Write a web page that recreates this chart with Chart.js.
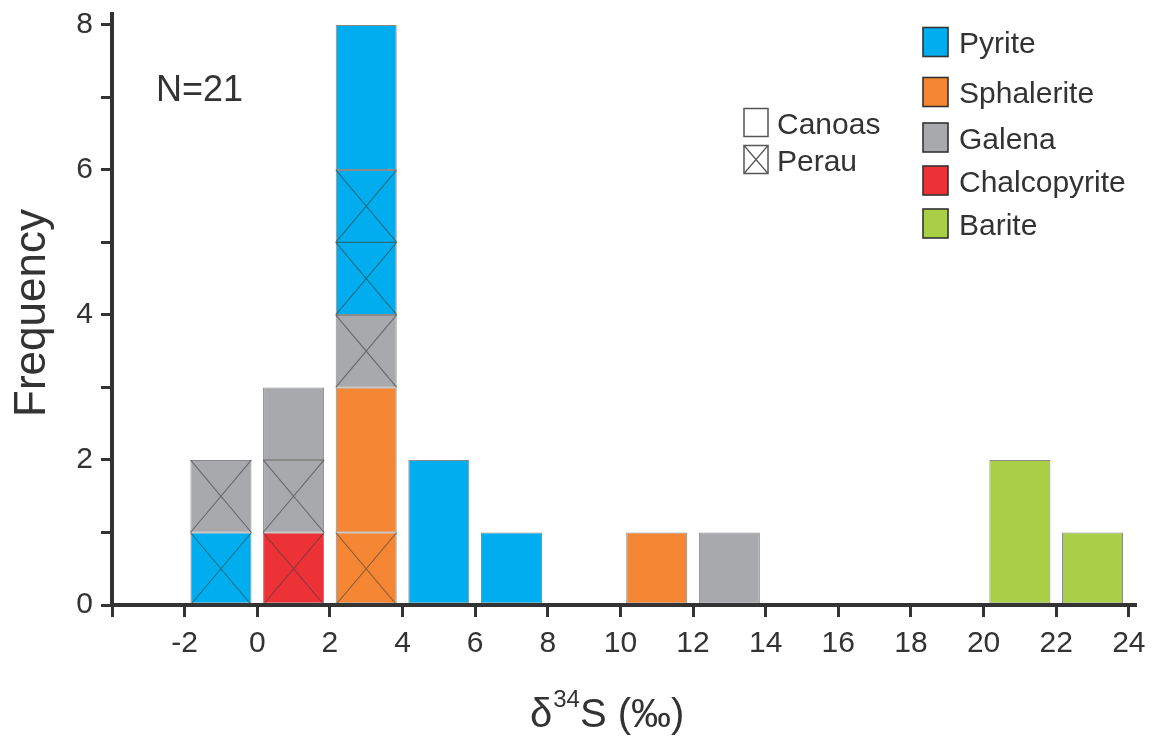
<!DOCTYPE html>
<html>
<head>
<meta charset="utf-8">
<script src="https://cdn.jsdelivr.net/npm/chart.js@4.4.1/dist/chart.umd.min.js"></script>
<style>
  html, body { margin: 0; padding: 0; background: #ffffff; }
  #wrap { width: 1153px; height: 736px; position: relative; }
</style>
</head>
<body>
<div id="wrap"><canvas id="c" width="1153" height="736"></canvas></div>
<script>
// ---- Data ----
// Each segment is one stacked block, listed bottom-to-top within its bin (bin centre in ‰).
const segBin     = [-1, -1, 1, 1, 1, 3, 3, 3, 3, 3, 5, 7, 11, 13, 21, 23];
const segMineral = ['Pyrite', 'Galena',
                    'Chalcopyrite', 'Galena', 'Galena',
                    'Sphalerite', 'Sphalerite', 'Galena', 'Pyrite', 'Pyrite',
                    'Pyrite', 'Pyrite', 'Sphalerite', 'Galena', 'Barite', 'Barite'];
const segSite    = ['Perau', 'Perau',
                    'Perau', 'Perau', 'Canoas',
                    'Perau', 'Canoas', 'Perau', 'Perau', 'Canoas',
                    'Canoas', 'Canoas', 'Canoas', 'Canoas', 'Canoas', 'Canoas'];
const segCount   = [1, 1, 1, 1, 1, 1, 2, 1, 2, 2, 2, 1, 1, 1, 2, 1];

const minerals = ['Pyrite', 'Sphalerite', 'Galena', 'Chalcopyrite', 'Barite'];
const mineralColors = ['#00AEEF', '#F48634', '#A7A9AC', '#EC3237', '#A9CF46'];
const sites = ['Canoas', 'Perau'];
const sampleLabel = 'N=21';
const xTitleMain = 'δ', xTitleSup = '34', xTitleRest = 'S (‰)';
const yTitle = 'Frequency';

// ---- Build floating-bar datasets ----
const binTop = {};
const datasets = [];
const dsIndex = {};
for (let i = 0; i < segBin.length; i++) {
  const b = segBin[i];
  const start = binTop[b] || 0;
  const end = start + segCount[i];
  binTop[b] = end;
  const key = segMineral[i] + '|' + segSite[i];
  if (!(key in dsIndex)) {
    const mi = minerals.indexOf(segMineral[i]);
    dsIndex[key] = datasets.length;
    datasets.push({
      label: segMineral[i] + ' (' + segSite[i] + ')',
      site: segSite[i],
      data: [],
      backgroundColor: mineralColors[mi],
      borderColor: 'rgba(60,60,60,0.6)',
      borderWidth: 1,
      borderSkipped: false,
      grouped: false,
      categoryPercentage: 1.0,
      barPercentage: 0.84
    });
  }
  datasets[dsIndex[key]].data.push({ x: b, y: [start, end] });
}

const TXT = '#333333';
const FONT = '"Liberation Sans", Arial, Helvetica, sans-serif';

const crossPlugin = {
  id: 'crosses',
  afterDatasetsDraw(chart) {
    const ctx = chart.ctx;
    const ys = chart.scales.y;
    ctx.save();
    ctx.strokeStyle = 'rgba(60,60,60,0.6)';
    ctx.lineWidth = 1.1;
    chart.data.datasets.forEach((ds, di) => {
      if (ds.site !== 'Perau') return;
      const meta = chart.getDatasetMeta(di);
      meta.data.forEach((el, j) => {
        const raw = ds.data[j].y;
        const l = el.x - el.width / 2, r = el.x + el.width / 2;
        for (let k = raw[0]; k < raw[1]; k++) {
          const yb = ys.getPixelForValue(k), yt = ys.getPixelForValue(k + 1);
          ctx.beginPath();
          if (k > raw[0]) { ctx.moveTo(l, yb); ctx.lineTo(r, yb); }
          ctx.moveTo(l, yb); ctx.lineTo(r, yt);
          ctx.moveTo(l, yt); ctx.lineTo(r, yb);
          ctx.stroke();
        }
      });
    });
    ctx.restore();
  }
};

const decorPlugin = {
  id: 'decor',
  afterDraw(chart) {
    const ctx = chart.ctx;
    ctx.save();
    ctx.fillStyle = TXT;
    ctx.textBaseline = 'alphabetic';
    ctx.textAlign = 'left';
    // N label
    ctx.font = '36px ' + FONT;
    ctx.fillText(sampleLabel, 156, 101);
    // x title with superscript
    let x = 530;
    ctx.font = '40px ' + FONT;
    ctx.fillText(xTitleMain, x, 727);
    x += ctx.measureText(xTitleMain).width + 1;
    ctx.font = '24px ' + FONT;
    ctx.fillText(xTitleSup, x, 707);
    x += ctx.measureText(xTitleSup).width;
    ctx.font = '40px ' + FONT;
    ctx.fillText(xTitleRest, x, 727);
    // y title
    ctx.save();
    ctx.translate(45, 313);
    ctx.rotate(-Math.PI / 2);
    ctx.textAlign = 'center';
    ctx.font = '44px ' + FONT;
    ctx.fillText(yTitle, 0, 0);
    ctx.restore();
    // mineral legend
    const centers = [42, 92, 137.5, 180.5, 223.5];
    ctx.font = '30px ' + FONT;
    minerals.forEach((m, i) => {
      const cy = centers[i];
      ctx.fillStyle = mineralColors[i];
      ctx.fillRect(923, cy - 14.5, 25, 29);
      ctx.strokeStyle = '#333';
      ctx.lineWidth = 1.6;
      ctx.strokeRect(923, cy - 14.5, 25, 29);
      ctx.fillStyle = TXT;
      ctx.fillText(m, 959, cy + 11);
    });
    // locality legend
    const sc = [122.5, 159.5];
    sites.forEach((s, i) => {
      const cy = sc[i];
      ctx.fillStyle = '#fff';
      ctx.fillRect(744, cy - 14, 24, 28);
      ctx.strokeStyle = '#555';
      ctx.lineWidth = 1.5;
      ctx.strokeRect(744, cy - 14, 24, 28);
      if (s === 'Perau') {
        ctx.beginPath();
        ctx.moveTo(744, cy - 14); ctx.lineTo(768, cy + 14);
        ctx.moveTo(744, cy + 14); ctx.lineTo(768, cy - 14);
        ctx.lineWidth = 1.2;
        ctx.stroke();
      }
      ctx.fillStyle = TXT;
      ctx.fillText(s, 777, cy + 11);
    });
    ctx.restore();
  }
};

new Chart(document.getElementById('c'), {
  type: 'bar',
  data: { datasets },
  options: {
    responsive: false,
    animation: false,
    layout: { padding: { left: 0, top: 14, right: 18, bottom: 0 } },
    plugins: { legend: { display: false }, tooltip: { enabled: false } },
    scales: {
      x: {
        type: 'linear',
        offset: false,
        min: -4, max: 24.17,
        grid: { display: true, offset: false, drawOnChartArea: false, drawTicks: true, tickLength: 12, color: '#333', lineWidth: 3 },
        border: { display: true, color: '#333', width: 4 },
        ticks: {
          stepSize: 2, includeBounds: false, autoSkip: false, maxRotation: 0,
          padding: 9, color: TXT, font: { size: 30, family: FONT },
          callback: v => (v === -4 ? '' : String(v))
        },
        afterFit: s => { s.height = 131; s.paddingLeft = 0; s.paddingRight = 0; }
      },
      y: {
        min: 0, max: 8.15,
        grid: { display: true, drawOnChartArea: false, drawTicks: true, tickLength: 11, color: '#333', lineWidth: 3 },
        border: { display: true, color: '#333', width: 4 },
        ticks: {
          stepSize: 1, includeBounds: false, autoSkip: false,
          padding: 8, color: TXT, font: { size: 30, family: FONT },
          callback: v => (v % 2 === 0 ? String(v) : '')
        },
        afterFit: s => { s.width = 112; s.paddingTop = 0; s.paddingBottom = 0; }
      }
    }
  },
  plugins: [crossPlugin, decorPlugin]
});
</script>
</body>
</html>
